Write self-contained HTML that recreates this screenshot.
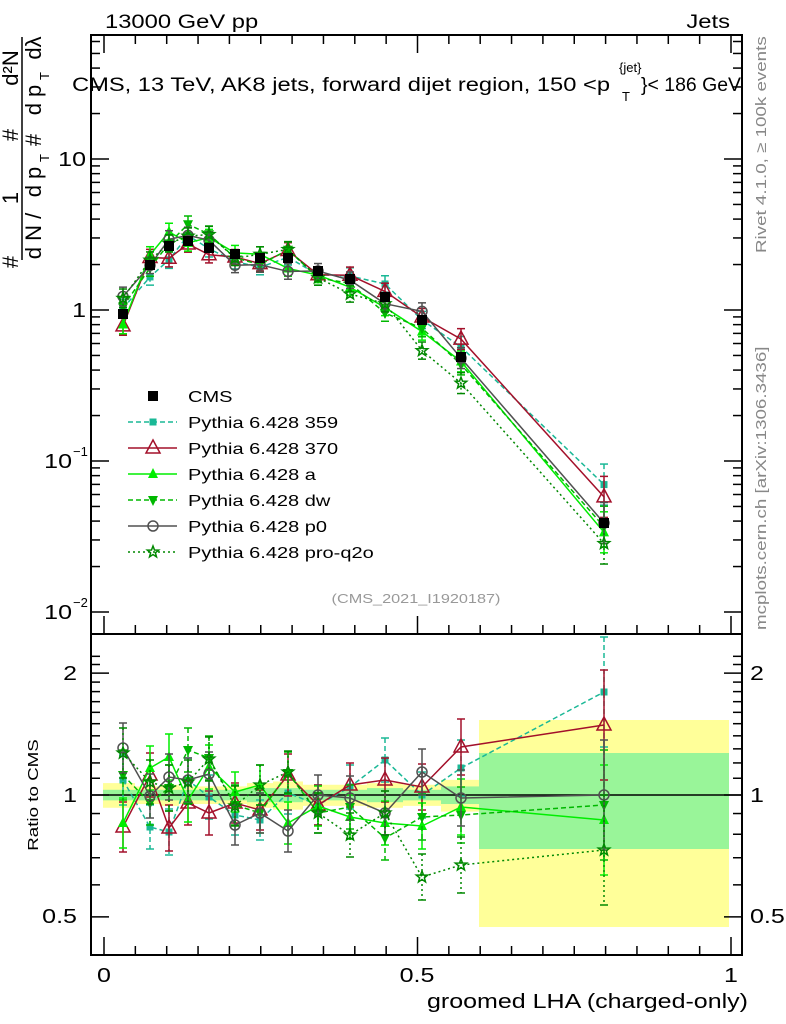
<!DOCTYPE html>
<html><head><meta charset="utf-8"><style>
html,body{margin:0;padding:0;background:#fff}
svg{display:block;font-family:"Liberation Sans",sans-serif}
</style></head><body>
<svg id="s" width="786" height="1024" xmlns="http://www.w3.org/2000/svg"></svg>
<script>
const S=document.getElementById('s');let h='';
const X0=104,X1=731,L=91,R=742,T=35,M=634,B=955;
const xp=v=>X0+(X1-X0)*v;
const ym=v=>310-151*Math.log10(v);
const yr=v=>795-405*Math.log10(v);
const xs=[123,150,169,188,209,235,260,288,318,350,385,422,461,604];
const edges=[103,135,160,179,198,223,247,273,303,334,367,403,441,479,729];
const yb=[0.07,0.05,0.06,0.05,0.05,0.05,0.07,0.08,0.06,0.06,0.07,0.06,0.09,0.4];
const gb=[0.03,0.03,0.03,0.03,0.03,0.03,0.04,0.04,0.03,0.03,0.04,0.03,0.05,0.22];
for(let i=0;i<14;i++){let w=edges[i+1]-edges[i];
 let yu=i==13?720:yr(1+yb[i]),yl=i==13?927:yr(1-yb[i]);
 h+=`<rect x="${edges[i]}" y="${yu}" width="${w}" height="${yl-yu}" fill="#ffff99"/>`;
 let gu=i==13?753:yr(1+gb[i]),gl=i==13?849:yr(1-gb[i]);
 h+=`<rect x="${edges[i]}" y="${gu}" width="${w}" height="${gl-gu}" fill="#99f599"/>`;}
h+=`<line x1="${L}" x2="${R}" y1="795" y2="795" stroke="#000" stroke-width="1.5"/>`;
const cms=[314,265,246,241,248,254,258,258,271,279,297,320,357,523];
const ser=[
 {n:'359',c:'#1ab896',d:'5,3',m:'sq',r:[780,827,832,780,797,815,820,793,805,787,760,795,768,692]},
 {n:'370',c:'#a3102a',d:'',m:'tri',r:[827,775,828,803,813,803,810,775,805,785,780,787,747,725]},
 {n:'a',c:'#00ee00',d:'',m:'ftri',r:[823,768,757,800,767,792,785,823,806,817,823,826,807,820]},
 {n:'dw',c:'#00b800',d:'5,3',m:'dtri',r:[775,803,788,750,758,805,813,773,813,807,838,817,815,805]},
 {n:'p0',c:'#505050',d:'',m:'circ',r:[748,796,777,780,774,825,813,831,795,798,813,772,798,795]},
 {n:'pro-q2o',c:'#008800',d:'2,3',m:'star',r:[753,782,788,782,759,806,785,772,813,835,813,877,865,850]}];
function mk(t,x,y,c){
 if(t=='sq')return `<rect x="${x-3.5}" y="${y-3.5}" width="7" height="7" fill="${c}"/>`;
 if(t=='bsq')return `<rect x="${x-5}" y="${y-5}" width="10" height="10" fill="${c}"/>`;
 if(t=='tri')return `<polygon points="${x},${y-8} ${x-7},${y+5} ${x+7},${y+5}" fill="none" stroke="${c}" stroke-width="1.5"/>`;
 if(t=='ftri')return `<polygon points="${x},${y-6} ${x-5},${y+4} ${x+5},${y+4}" fill="${c}"/>`;
 if(t=='dtri')return `<polygon points="${x},${y+6} ${x-5},${y-4} ${x+5},${y-4}" fill="${c}"/>`;
 if(t=='circ')return `<circle cx="${x}" cy="${y}" r="5" fill="none" stroke="${c}" stroke-width="1.5"/>`;
 if(t=='star'){let p=[];for(let k=0;k<10;k++){let a=-Math.PI/2+k*Math.PI/5,rr=k%2?2.5:6;p.push((x+rr*Math.cos(a)).toFixed(1)+','+(y+rr*Math.sin(a)).toFixed(1));}
  return `<polygon points="${p.join(' ')}" fill="none" stroke="${c}" stroke-width="1.5"/>`;}
}
function eb(x,y,e,c,d){return `<line x1="${x}" x2="${x}" y1="${y-e}" y2="${y+e}" stroke="${c}" stroke-width="1.5" stroke-dasharray="${d}"/><line x1="${x-4}" x2="${x+4}" y1="${y-e}" y2="${y-e}" stroke="${c}" stroke-width="1.5"/><line x1="${x-4}" x2="${x+4}" y1="${y+e}" y2="${y+e}" stroke="${c}" stroke-width="1.5"/>`;}
const errR=[25,22,23,22,22,20,20,21,20,22,22,23,28,55];
for(const s of ser){
 let pm=xs.map((x,i)=>[x,cms[i]-0.373*(795-s.r[i])]);
 let pr=xs.map((x,i)=>[x,s.r[i]]);
 for(const pts of [pm,pr]){
  h+=`<polyline points="${pts.map(p=>p.join(',')).join(' ')}" fill="none" stroke="${s.c}" stroke-width="1.5" stroke-dasharray="${s.d}"/>`;
  pts.forEach((p,i)=>{let e=pts===pm?errR[i]*0.373:errR[i];h+=eb(p[0],p[1],e,s.c,s.d)+mk(s.m,p[0],p[1],s.c);});
 }
}
xs.forEach((x,i)=>h+=mk('bsq',x,cms[i],'#000'));
h+=`<rect x="${L}" y="${T}" width="${R-L}" height="${M-T}" fill="none" stroke="#000" stroke-width="2"/>`;
h+=`<rect x="${L}" y="${M}" width="${R-L}" height="${B-M}" fill="none" stroke="#000" stroke-width="2"/>`;
for(let dec=-2;dec<=1;dec++)for(let k=1;k<=9;k++){let v=k*Math.pow(10,dec),y=ym(v);if(y<T||y>M)continue;let len=k==1?18:9;
 h+=`<line x1="${L}" x2="${L+len}" y1="${y}" y2="${y}" stroke="#000" stroke-width="1.5"/><line x1="${R}" x2="${R-len}" y1="${y}" y2="${y}" stroke="#000" stroke-width="1.5"/>`;}
for(const v of [0.4,0.5,0.6,0.7,0.8,0.9,1,1.1,1.2,1.3,1.4,1.5,1.6,1.7,1.8,1.9,2,2.1,2.2]){let y=yr(v);if(y<M||y>B)continue;let len=[0.5,1,2].includes(v)?18:9;
 h+=`<line x1="${L}" x2="${L+len}" y1="${y}" y2="${y}" stroke="#000" stroke-width="1.5"/><line x1="${R}" x2="${R-len}" y1="${y}" y2="${y}" stroke="#000" stroke-width="1.5"/>`;}
for(let i=0;i<=20;i++){let x=xp(i*0.05);let len=i%10==0?18:9;
 h+=`<line x1="${x}" x2="${x}" y1="${B}" y2="${B-len}" stroke="#000" stroke-width="1.5"/><line x1="${x}" x2="${x}" y1="${T}" y2="${T+len}" stroke="#000" stroke-width="1.5"/><line x1="${x}" x2="${x}" y1="${M}" y2="${M-len}" stroke="#000" stroke-width="1.5"/>`;}
const tx=(x,y,t,o)=>h+=`<text class="w" x="${x}" y="${y}" ${o||''}>${t}</text>`;
tx(105,28,'13000 GeV pp','font-size="19"');tx(730,28,'Jets','font-size="19" text-anchor="end"');
h+=`<text x="72" y="91" font-size="19" textLength="538" lengthAdjust="spacingAndGlyphs">CMS, 13 TeV, AK8 jets, forward dijet region, 150 &lt;p</text>`;
h+=`<text x="619" y="72" font-size="13">{jet}</text><text x="622" y="101" font-size="13">T</text>`;
h+=`<text x="641" y="91" font-size="19" textLength="100" lengthAdjust="spacingAndGlyphs">}&lt; 186 GeV</text>`;
tx(86,166,'10','font-size="20" text-anchor="end"');tx(86,317,'1','font-size="20" text-anchor="end"');
tx(72,468,'10','font-size="20" text-anchor="end"');h+=`<text x="73" y="456" font-size="13">−1</text>`;
tx(72,619,'10','font-size="20" text-anchor="end"');h+=`<text x="73" y="607" font-size="13">−2</text>`;
tx(77,680,'2','font-size="20" text-anchor="end"');tx(77,802,'1','font-size="20" text-anchor="end"');tx(77,923,'0.5','font-size="20" text-anchor="end"');
tx(750,680,'2','font-size="20"');tx(750,802,'1','font-size="20"');tx(750,923,'0.5','font-size="20"');
tx(104,982,'0','font-size="20" text-anchor="middle"');tx(417,982,'0.5','font-size="20" text-anchor="middle"');tx(731,982,'1','font-size="20" text-anchor="middle"');
tx(748,1008,'groomed LHA (charged-only)','font-size="20" text-anchor="end"');
tx(0,0,'Ratio to CMS','font-size="15" text-anchor="middle" transform="translate(38,795) rotate(-90)"');
tx(416,603,'(CMS_2021_I1920187)','font-size="13" fill="#999" text-anchor="middle"');
tx(0,0,'Rivet 4.1.0, ≥ 100k events','font-size="15" fill="#888" transform="translate(766,253) rotate(-90)"');
tx(0,0,'mcplots.cern.ch [arXiv:1306.3436]','font-size="15" fill="#888" transform="translate(766,630) rotate(-90)"');
h+=`<line x1="22" x2="22" y1="37" y2="260" stroke="#000" stroke-width="1.5"/>`;
const rt=(x,y,t,fs)=>h+=`<text font-size="${fs||22}" text-anchor="middle" transform="translate(${x},${y}) rotate(-90)">${t}</text>`;
rt(18,68,'d²N');rt(18,135,'#');rt(18,198,'1');rt(18,262,'#');
rt(41,48,'dλ');rt(41,100,'d p');rt(49,76,'T',13);rt(41,140,'#');rt(41,182,'d p');rt(49,158,'T',13);rt(41,236,'d N /');
const leg=[['CMS','#000','','bsq'],['Pythia 6.428 359','#1ab896','5,3','sq'],['Pythia 6.428 370','#a3102a','','tri'],['Pythia 6.428 a','#00ee00','','ftri'],['Pythia 6.428 dw','#00b800','5,3','dtri'],['Pythia 6.428 p0','#505050','','circ'],['Pythia 6.428 pro-q2o','#008800','2,3','star']];
leg.forEach((l,i)=>{let y=396+i*26;
 if(i>0)h+=`<line x1="128" x2="177" y1="${y}" y2="${y}" stroke="${l[1]}" stroke-width="1.5" stroke-dasharray="${l[2]}"/>`;
 h+=mk(l[3],153,y,l[1]);
 tx(188,y+6,l[0],'font-size="16"');});
S.innerHTML=h;
document.querySelectorAll('text.w').forEach(t=>{const w=t.getComputedTextLength();t.setAttribute('textLength',(w*1.25).toFixed(1));t.setAttribute('lengthAdjust','spacingAndGlyphs');});
</script>
</body></html>
